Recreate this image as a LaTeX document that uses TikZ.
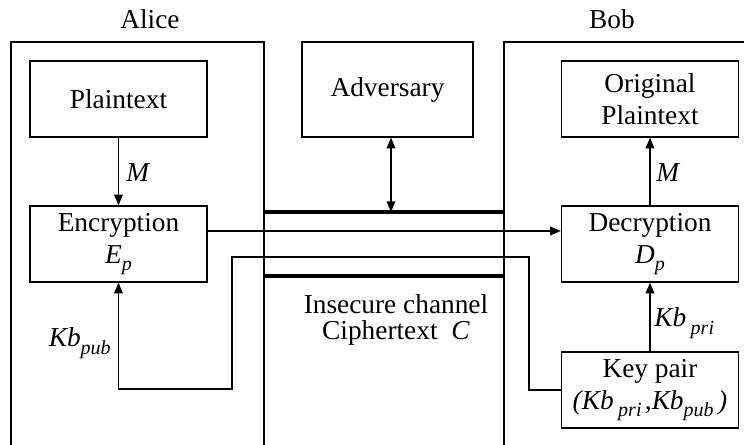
\documentclass[tikz,border=0pt]{standalone}
\usepackage{fontspec}
\setmainfont{Liberation Serif}
\usetikzlibrary{arrows.meta,positioning,calc}
\newcommand{\subtxt}[1]{\raisebox{-0.6ex}{\fontsize{15}{15}\selectfont\itshape #1}}
\tikzset{
  blockbox/.style={draw, line width=1pt, align=center, inner sep=0pt,
    minimum width=132.75pt, minimum height=57pt,
    font=\fontsize{20.5}{24}\selectfont},
  frame/.style={line width=1pt},
  chan/.style={line width=3pt},
  arr/.style={-{Triangle[length=8pt,width=6.5pt]}, line width=1pt},
  duoarr/.style={{Triangle[length=8pt,width=6.5pt]}-{Triangle[length=8pt,width=6.5pt]}, line width=1pt},
  partylabel/.style={inner sep=0pt, font=\fontsize{20.5}{24}\selectfont},
  keylabel/.style={inner sep=0pt, font=\fontsize{20.5}{24}\selectfont\itshape}
}
\begin{document}
\begin{tikzpicture}[x=0.75pt, y=-0.75pt]
  \useasboundingbox (0,0) rectangle (744,445);
  % the two parties
  \draw[frame] (11,445) -- (11,42) -- (264,42) -- (264,445);
  \draw[frame] (504,445) -- (504,42) -- (744,42);
  \node[partylabel, anchor=base] (alice) at (150,29) {Alice};
  \node[partylabel, anchor=base] (bob) at (612,29) {Bob};

  \node[blockbox] (plain) at (118.5,99) {Plaintext};
  \node[blockbox] (enc) at (118.5,244) {Encryption\\\textit{E}\subtxt{p}};
  \node[blockbox, minimum width=128.25pt, minimum height=71.25pt] (adv) at (387.5,89.5) {Adversary};
  \node[blockbox] (orig) at (650,99) {Original\\Plaintext};
  \node[blockbox] (dec) at (650,244) {Decryption\\\textit{D}\subtxt{p}};
  \node[blockbox] (keyp) at (650,390) {Key pair\\\textit{(Kb}\,\subtxt{pri\,},\textit{Kb}\subtxt{pub}\,\textit{)}};

  % insecure channel
  \coordinate (chtopL) at (264,212);
  \coordinate (chtopR) at (504,212);
  \coordinate (chbotL) at (264,276);
  \coordinate (chbotR) at (504,276);
  \draw[chan] (chtopL) -- (chtopR);
  \draw[chan] (chbotL) -- (chbotR);
  \node[partylabel, anchor=north, align=center, font=\fontsize{20.5}{20}\selectfont] (chan) at (396,294)
    {Insecure channel\\Ciphertext\enspace\textit{C}};

  \coordinate (tap) at (391,212);
  \coordinate (cwire) at (300,231);
  \coordinate (k1) at (529,257);
  \coordinate (k2) at (232,389);

  \draw[arr] (plain) -- (enc);
  \draw[arr] (dec) -- (orig);
  \draw[arr] (keyp) -- (dec);
  \draw[duoarr] (adv.south -| tap) -- (tap);
  \draw[arr] (enc.east |- cwire) -- (dec.west |- cwire);
  \draw[arr] (keyp.west) -| (k1) -| (k2) -| (enc.south);

  % labels on the arrows
  \node[keylabel, anchor=base west] (mA) at (126,182) {M};
  \node[keylabel, anchor=base west] (mB) at (656,182) {M};
  \node[keylabel, anchor=base east] (kpub) at (111,347) {Kb\subtxt{pub}};
  \node[keylabel, anchor=base west] (kpri) at (654,327) {Kb\,\subtxt{pri}};
\end{tikzpicture}
\end{document}
